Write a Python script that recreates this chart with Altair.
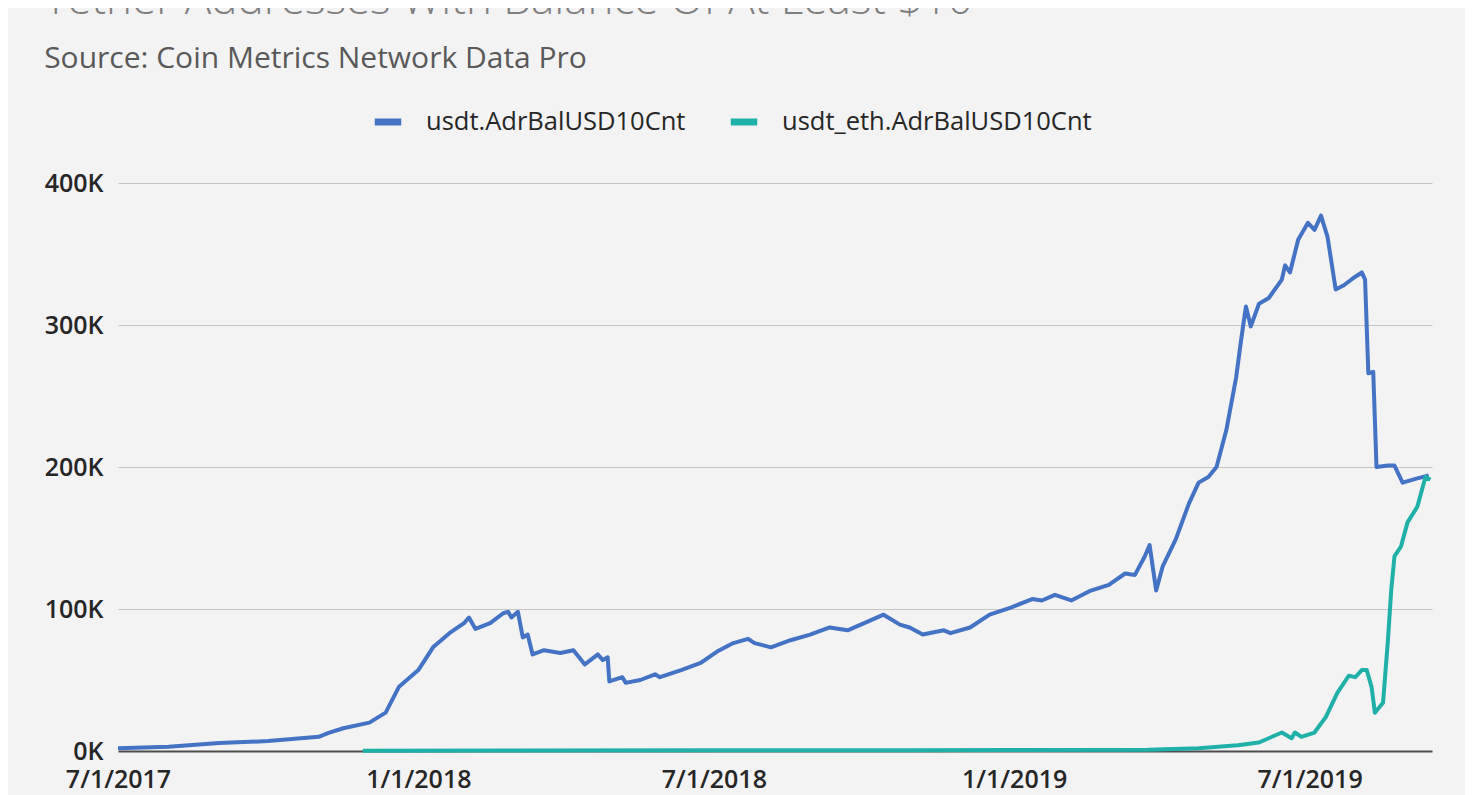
import altair as alt
import pandas as pd

# usdt (Omni) addresses with balance >= $10, in thousands
usdt_dates = [
    "2017-07-01", "2017-08-01", "2017-09-01", "2017-10-01", "2017-11-01", "2017-11-07",
    "2017-11-16", "2017-12-02", "2017-12-12", "2017-12-20", "2018-01-01", "2018-01-10",
    "2018-01-20", "2018-01-29", "2018-02-01", "2018-02-05", "2018-02-14", "2018-02-22",
    "2018-02-25", "2018-02-27", "2018-03-03", "2018-03-06", "2018-03-09", "2018-03-12",
    "2018-03-19", "2018-03-29", "2018-04-06", "2018-04-13", "2018-04-21", "2018-04-24",
    "2018-04-27", "2018-04-28", "2018-05-06", "2018-05-08", "2018-05-17", "2018-05-26",
    "2018-05-29", "2018-06-11", "2018-06-23", "2018-07-03", "2018-07-13", "2018-07-22",
    "2018-07-26", "2018-08-05", "2018-08-17", "2018-08-29", "2018-09-10", "2018-09-21",
    "2018-10-05", "2018-10-13", "2018-10-23", "2018-10-29", "2018-11-06", "2018-11-19",
    "2018-11-23", "2018-12-05", "2018-12-17", "2018-12-30", "2019-01-12", "2019-01-18",
    "2019-01-26", "2019-02-05", "2019-02-17", "2019-02-28", "2019-03-10", "2019-03-16",
    "2019-03-22", "2019-03-25", "2019-03-29", "2019-04-02", "2019-04-10", "2019-04-18",
    "2019-04-24", "2019-04-30", "2019-05-05", "2019-05-11", "2019-05-17", "2019-05-20",
    "2019-05-23", "2019-05-26", "2019-05-31", "2019-06-06", "2019-06-14", "2019-06-16",
    "2019-06-19", "2019-06-24", "2019-06-30", "2019-07-04", "2019-07-08", "2019-07-12",
    "2019-07-17", "2019-07-22", "2019-07-29", "2019-08-02", "2019-08-04", "2019-08-06",
    "2019-08-09", "2019-08-11", "2019-08-18", "2019-08-22", "2019-08-27", "2019-09-05",
    "2019-09-12",
]
usdt_values = [
    2, 3, 5.6, 7, 10, 12.7,
    16, 20, 27, 45, 57, 73,
    83, 90, 94, 86, 90, 97,
    98, 94, 98, 80, 82, 68,
    71, 69, 71, 61, 68, 64,
    66, 49, 52, 48, 50, 54,
    52, 57, 62, 70, 76, 79,
    76, 73, 78, 82, 87, 85,
    92, 96, 89, 87, 82, 85,
    83, 87, 96, 101, 107, 106,
    110, 106, 113, 117, 125, 124,
    137, 145, 113, 130, 149, 174,
    189, 193, 200, 226, 263, 289,
    313, 299, 315, 319, 332, 342,
    337, 360, 372, 367, 377, 362,
    325, 328, 334, 337, 332, 266,
    267, 200, 201, 201, 189, 192,
    194,
]

# usdt_eth (ERC-20) addresses with balance >= $10, in thousands
eth_dates = [
    "2017-11-28", "2018-03-01", "2018-07-01", "2018-11-01", "2019-01-01", "2019-03-24",
    "2019-04-24", "2019-05-18", "2019-05-31", "2019-06-06", "2019-06-14", "2019-06-20",
    "2019-06-22", "2019-06-26", "2019-07-04", "2019-07-11", "2019-07-18", "2019-07-25",
    "2019-07-29", "2019-08-02", "2019-08-05", "2019-08-08", "2019-08-10", "2019-08-15",
    "2019-08-18", "2019-08-20", "2019-08-22", "2019-08-26", "2019-08-30", "2019-09-05",
    "2019-09-10", "2019-09-13",
]
eth_values = [
    0.2, 0.3, 0.5, 0.6, 0.7, 0.8,
    2, 4, 6, 9, 13, 9,
    13, 10, 13, 24, 41, 53,
    52, 57, 57, 45, 27, 34,
    78, 113, 137, 144, 161, 172,
    193, 191,
]

series_names = ["usdt.AdrBalUSD10Cnt", "usdt_eth.AdrBalUSD10Cnt"]
series_colors = ["#4472c4", "#1fb0a7"]
y_ticks = [0, 100000, 200000, 300000, 400000]
x_ticks = [(2017, 7, 1), (2018, 1, 1), (2018, 7, 1), (2019, 1, 1), (2019, 7, 1)]

df = pd.concat([
    pd.DataFrame({"date": usdt_dates, "value": [v * 1000 for v in usdt_values], "series": series_names[0]}),
    pd.DataFrame({"date": eth_dates, "value": [v * 1000 for v in eth_values], "series": series_names[1]}),
])

FONT = "Open Sans"

chart = alt.Chart(df).mark_line(strokeWidth=4, strokeJoin="round").encode(
    x=alt.X(
        "date:T",
        scale=alt.Scale(
            type="utc",
            domain=[alt.DateTime(year=2017, month=7, date=1, utc=True),
                    alt.DateTime(year=2019, month=9, date=14, utc=True)],
        ),
        axis=alt.Axis(
            title=None,
            values=[alt.DateTime(year=y, month=m, date=d, utc=True) for (y, m, d) in x_ticks],
            format="%-m/%-d/%Y",
            grid=False,
            ticks=False,
            domain=True,
            domainColor="#4d4d4d",
            domainWidth=2,
            labelFontSize=25,
            labelColor="#262626",
            labelPadding=16,
            labelFont=FONT,
            labelFontWeight=600,
            labelFlush=False,
        ),
    ),
    y=alt.Y(
        "value:Q",
        scale=alt.Scale(domain=[0, 400000], nice=False),
        axis=alt.Axis(
            title=None,
            values=y_ticks,
            labelExpr="datum.value / 1000 + 'K'",
            grid=True,
            gridColor="#c6c6c6",
            gridWidth=1,
            ticks=False,
            domain=False,
            labelFontSize=25,
            labelColor="#262626",
            labelPadding=15,
            labelFont=FONT,
            labelFontWeight=600,
        ),
    ),
    color=alt.Color(
        "series:N",
        scale=alt.Scale(domain=series_names, range=series_colors),
        legend=alt.Legend(
            title=None,
            orient="none",
            direction="horizontal",
            legendX=253,
            legendY=-78,
            symbolType="stroke",
            symbolStrokeWidth=7,
            symbolSize=700,
            labelFontSize=25.5,
            labelColor="#262626",
            labelFont=FONT,
            labelLimit=500,
            columnPadding=30,
            symbolOffset=0,
            labelOffset=21,
        ),
    ),
).properties(
    width=1314,
    height=568,
    autosize=alt.AutoSizeParams(type="none"),
    padding={"left": 110, "top": 175, "right": 33, "bottom": 44},
    title=alt.Title(
        "Tether Addresses With Balance Of At Least $10",
        subtitle="Source: Coin Metrics Network Data Pro",
        anchor="start",
        frame="bounds",
        fontSize=44,
        font=FONT,
        fontWeight=300,
        color="#7f7f7f",
        subtitleFontSize=30,
        subtitleFont=FONT,
        subtitleColor="#595959",
        subtitlePadding=21,
        offset=31,
    ),
).configure(background="#f3f3f3").configure_view(stroke=None)

chart.save("out.html", embed_options={"renderer": "svg", "actions": False})
